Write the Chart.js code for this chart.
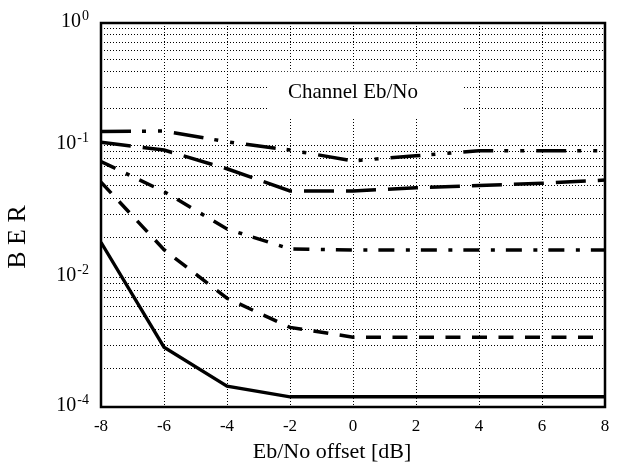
<!DOCTYPE html>
<html>
<head>
<meta charset="utf-8">
<title>BER vs Eb/No offset</title>
<script src="https://cdn.jsdelivr.net/npm/chart.js@4.4.1/dist/chart.umd.min.js"></script>
<style>
  html, body { margin: 0; padding: 0; background: #fff; }
  canvas { display: block; }
</style>
</head>
<body>
<canvas id="berChart" width="621" height="464"></canvas>
<script>
// Eb/No offset [dB] along the x axis
var offsets = [-8, -6, -4, -2, 0, 2, 4, 6, 8];

// BER per channel Eb/No, top curve first
var berDashDotDot = [0.131, 0.132, 0.108, 0.093, 0.077, 0.084, 0.092, 0.092, 0.092];
var berLongDash   = [0.107, 0.093, 0.067, 0.0455, 0.0455, 0.048, 0.050, 0.052, 0.055];
var berDashDot    = [0.076, 0.045, 0.0234, 0.0165, 0.0162, 0.0162, 0.0162, 0.0162, 0.0162];
var berDashed     = [0.053, 0.0163, 0.0048, 0.0017, 0.0012, 0.0012, 0.0012, 0.0012, 0.0012];
var berSolid      = [0.0185, 0.00084, 0.00021, 0.000144, 0.000144, 0.000144, 0.000144, 0.000144, 0.000144];

// axis ticks
var xTicks = [-8, -6, -4, -2, 0, 2, 4, 6, 8];
var yLabelValues = [1, 0.1, 0.01, 0.0001];
var yLabelExponents = ['0', '-1', '-2', '-4'];
var minorMantissas = [2, 3, 4, 5, 6, 7, 8, 9];

var xTitle = 'Eb/No offset [dB]';
var yTitle = 'B E R';
var noteBox = { text: 'Channel Eb/No', xFrom: -2.7, xTo: 3.47, yFrom: 0.166, yTo: 0.401, x: 0, y: 0.27 };

var SERIF = '"Liberation Serif", "Times New Roman", serif';
Chart.defaults.font.family = SERIF;
Chart.defaults.color = '#000';

// Log axis where each labelled step gets its own share of the height
// (the last step, 1e-2 .. 1e-4, is squeezed into one decade's room).
class BerScale extends Chart.LogarithmicScale {
  _decimal(value) {
    var stops = this.options.stops;
    var t = Math.log10(value);
    for (var i = 1; i < stops.length; i++) {
      var a = Math.log10(stops[i - 1][0]);
      var b = Math.log10(stops[i][0]);
      if (t <= b || i === stops.length - 1) {
        return stops[i - 1][1] + (t - a) / (b - a) * (stops[i][1] - stops[i - 1][1]);
      }
    }
    return 0;
  }
  getPixelForValue(value) {
    if (value === null || value === undefined || isNaN(value) || value <= 0) return NaN;
    return this.getPixelForDecimal(this._decimal(value));
  }
  getValueForPixel(pixel) {
    var d = this.getDecimalForPixel(pixel);
    var stops = this.options.stops;
    for (var i = 1; i < stops.length; i++) {
      if (d <= stops[i][1] || i === stops.length - 1) {
        var a = Math.log10(stops[i - 1][0]);
        var b = Math.log10(stops[i][0]);
        var f = (d - stops[i - 1][1]) / (stops[i][1] - stops[i - 1][1]);
        return Math.pow(10, a + f * (b - a));
      }
    }
    return this.min;
  }
}
BerScale.id = 'ber';
Chart.register(BerScale);

// gridline values: labelled levels plus 2..9 steps inside every interval
function yGridValues() {
  var vals = yLabelValues.slice();
  for (var i = 1; i < yLabelValues.length; i++) {
    var hi = yLabelValues[i - 1], lo = yLabelValues[i];
    minorMantissas.forEach(function (m) {
      vals.push(lo * Math.pow(hi / lo, Math.log10(m)));
    });
  }
  return vals.sort(function (a, b) { return a - b; });
}

function berLine(values, dash, width) {
  return {
    data: values.map(function (v, i) { return { x: offsets[i], y: v }; }),
    borderColor: '#000',
    borderWidth: width,
    borderDash: dash,
    pointRadius: 0,
    fill: false,
    tension: 0
  };
}

// white note box over the grid, thick frame, 10^n labels and axis titles
var decorations = {
  id: 'decorations',
  beforeDatasetsDraw: function (chart) {
    var ctx = chart.ctx, xs = chart.scales.x, ys = chart.scales.y;
    var left = xs.getPixelForValue(noteBox.xFrom), right = xs.getPixelForValue(noteBox.xTo);
    var top = ys.getPixelForValue(noteBox.yTo), bottom = ys.getPixelForValue(noteBox.yFrom);
    ctx.save();
    ctx.fillStyle = '#fff';
    ctx.fillRect(left, top, right - left, bottom - top);
    ctx.fillStyle = '#000';
    ctx.font = '21px ' + SERIF;
    ctx.textAlign = 'center';
    ctx.textBaseline = 'middle';
    ctx.fillText(noteBox.text, xs.getPixelForValue(noteBox.x), ys.getPixelForValue(noteBox.y));
    ctx.restore();
  },
  afterDatasetsDraw: function (chart) {
    var a = chart.chartArea, ctx = chart.ctx;
    ctx.save();
    ctx.strokeStyle = '#000';
    ctx.lineWidth = 2.5;
    ctx.strokeRect(a.left, a.top, a.right - a.left, a.bottom - a.top);
    ctx.restore();
  },
  afterDraw: function (chart) {
    var a = chart.chartArea, ctx = chart.ctx, ys = chart.scales.y;
    ctx.save();
    ctx.fillStyle = '#000';
    ctx.textBaseline = 'alphabetic';

    // y labels: "10" with a raised exponent, right aligned to the axis
    yLabelValues.forEach(function (v, i) {
      var yPix = ys.getPixelForValue(v);
      var base = yPix + 3.5;
      ctx.font = '14px ' + SERIF;
      var expW = ctx.measureText(yLabelExponents[i]).width;
      var right = a.left - 12;
      ctx.textAlign = 'right';
      ctx.fillText(yLabelExponents[i], right, base - 7);
      ctx.font = '20px ' + SERIF;
      ctx.fillText('10', right - expW - 1, base);
    });

    // axis titles
    ctx.textAlign = 'center';
    ctx.font = '22px ' + SERIF;
    ctx.fillText(xTitle, (a.left + a.right) / 2 - 21, chart.height - 6);
    ctx.translate(a.left - 76, (a.top + a.bottom) / 2 + 22);
    ctx.rotate(-Math.PI / 2);
    ctx.font = '26px ' + SERIF;
    ctx.fillText(yTitle, 0, 0);
    ctx.restore();
  }
};

new Chart(document.getElementById('berChart').getContext('2d'), {
  type: 'line',
  data: {
    datasets: [
      berLine(berDashDotDot, [30, 11, 4, 12, 4, 12], 3.5),
      berLine(berLongDash, [30, 12], 3.5),
      berLine(berDashDot, [16, 11.5, 4, 11], 3.5),
      berLine(berDashed, [15, 11.5], 3.5),
      berLine(berSolid, [], 3.3)
    ]
  },
  options: {
    responsive: false,
    animation: false,
    layout: { padding: { top: 23, right: 16, left: 0, bottom: 0 } },
    plugins: {
      legend: { display: false },
      tooltip: { enabled: false }
    },
    scales: {
      x: {
        type: 'linear',
        min: -8,
        max: 8,
        afterBuildTicks: function (s) { s.ticks = xTicks.map(function (v) { return { value: v }; }); },
        afterFit: function (s) { s.height = 57; },
        ticks: { font: { size: 17 }, padding: 9, maxRotation: 0, autoSkip: false },
        grid: { color: '#000', lineWidth: 1, drawTicks: false },
        border: { display: false, dash: [1, 2] }
      },
      y: {
        type: 'ber',
        min: 0.0001,
        max: 1,
        stops: [[0.0001, 0], [0.01, 0.337], [0.1, 0.68], [1, 1]],
        afterBuildTicks: function (s) { s.ticks = yGridValues().map(function (v) { return { value: v }; }); },
        afterFit: function (s) { s.width = 101; },
        ticks: { display: false, autoSkip: false },
        grid: { color: '#000', lineWidth: 1, drawTicks: false },
        border: { display: false, dash: [1, 2] }
      }
    }
  },
  plugins: [decorations]
});
</script>
</body>
</html>
